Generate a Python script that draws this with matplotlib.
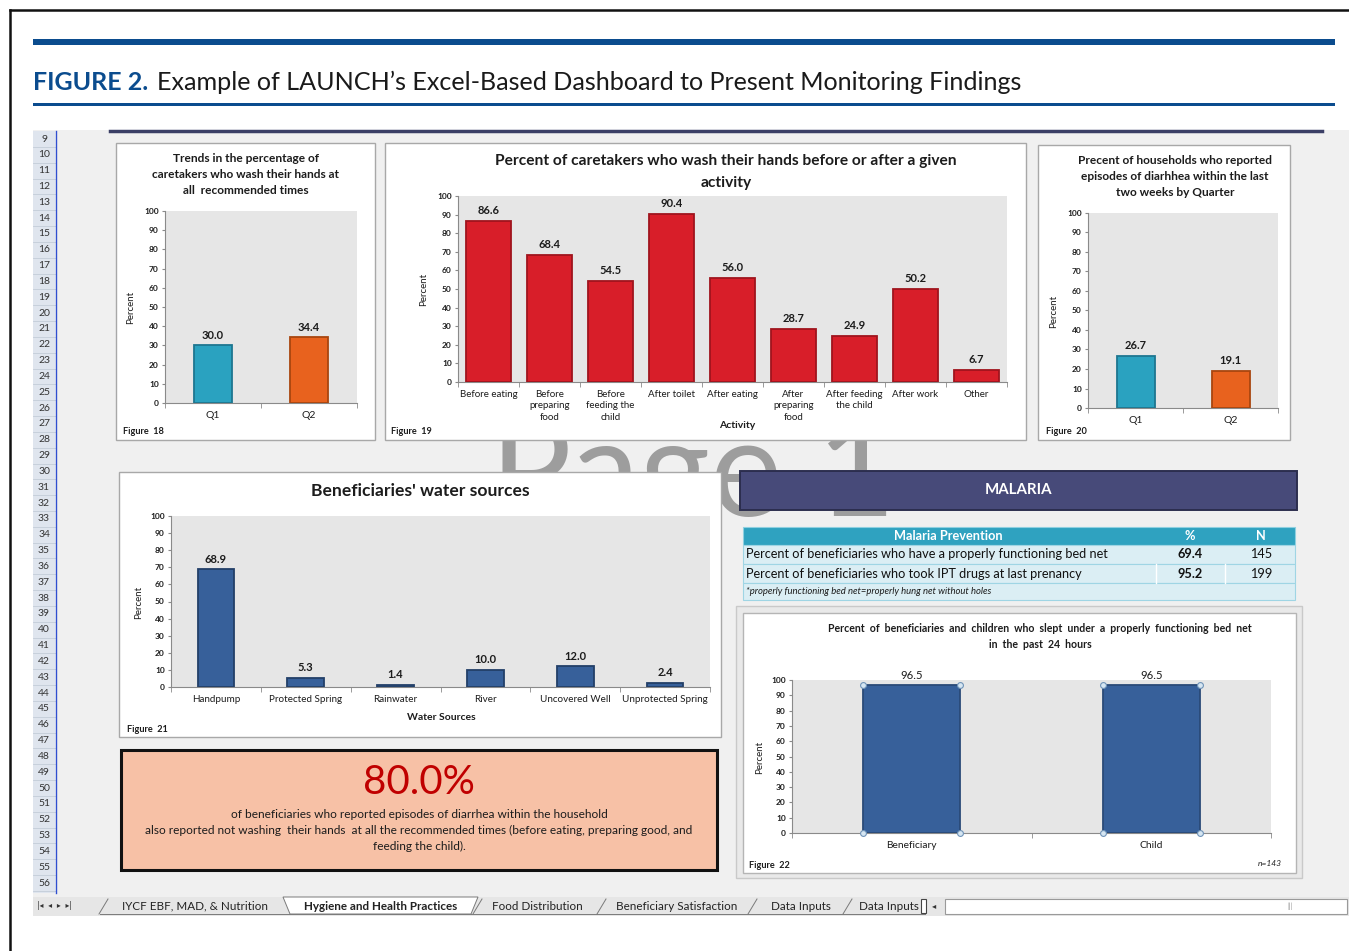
import numpy as np
import matplotlib
matplotlib.use("Agg")
import matplotlib.pyplot as plt
from matplotlib.patches import Rectangle, Polygon

plt.rcParams['font.family'] = ['Lato', 'DejaVu Sans']

W, H = 1349, 951

# ---- data ----
quarters = ['Q1', 'Q2']
wash_all_times = [30.0, 34.4]
activities = ['Before eating', 'Before\npreparing\nfood', 'Before\nfeeding the\nchild',
              'After toilet', 'After eating', 'After\npreparing\nfood',
              'After feeding\nthe child', 'After work', 'Other']
activity_pct = [86.6, 68.4, 54.5, 90.4, 56.0, 28.7, 24.9, 50.2, 6.7]
diarrhea_pct = [26.7, 19.1]
water_sources = ['Handpump', 'Protected Spring', 'Rainwater', 'River',
                 'Uncovered Well', 'Unprotected Spring']
water_pct = [68.9, 5.3, 1.4, 10.0, 12.0, 2.4]
bednet_groups = ['Beneficiary', 'Child']
bednet_pct = [96.5, 96.5]
malaria_items = ['Percent of beneficiaries who have a properly functioning bed net',
                 'Percent of beneficiaries who took IPT drugs at last prenancy']
malaria_pct = [69.4, 95.2]
malaria_n = [145, 199]
headline_pct = 80.0
sheet_tabs = ['IYCF EBF, MAD, & Nutrition', 'Hygiene and Health Practices',
              'Food Distribution', 'Beneficiary Satisfaction', 'Data Inputs', 'Data Inputs']
row_numbers = list(range(9, 57))

TEAL, ORANGE = '#2aa2c0', '#e8621e'
RED, BLUE = '#d81e29', '#37609a'
INK = '#1c1c1c'

fig = plt.figure(figsize=(W / 100, H / 100), dpi=100)
bg = fig.add_axes([0, 0, 1, 1])
bg.set_xlim(0, W)
bg.set_ylim(H, 0)
bg.axis('off')


def box(x0, y0, x1, y1, fc, ec='none', lw=1.0, z=3):
    bg.add_patch(Rectangle((x0, y0), x1 - x0, y1 - y0, facecolor=fc,
                           edgecolor=ec, linewidth=lw, zorder=z))


def txt(x, y, s, **kw):
    kw.setdefault('ha', 'center')
    kw.setdefault('va', 'center')
    kw.setdefault('zorder', 5)
    kw.setdefault('color', INK)
    bg.text(x, y, s, **kw)


def chart_axes(x0, y0, x1, y1):
    return fig.add_axes([x0 / W, 1 - y1 / H, (x1 - x0) / W, (y1 - y0) / H])


def bar_chart(ax, cats, vals, colors, edges, width, xfs=7, vfs=8, vbold=True):
    n = len(vals)
    x = np.arange(n)
    ax.bar(x, vals, width=width, color=colors, edgecolor=edges, linewidth=1.3, zorder=3)
    for xi, v in zip(x, vals):
        ax.annotate(f'{v:.1f}', (xi, v), xytext=(0, 3.2), textcoords='offset points',
                    ha='center', va='bottom', fontsize=vfs,
                    fontweight='bold' if vbold else 'normal', color=INK)
    ax.set_xlim(-0.5, n - 0.5)
    ax.set_ylim(0, 100)
    ax.set_facecolor('#e6e6e6')
    for s in ['top', 'right']:
        ax.spines[s].set_visible(False)
    for s in ['left', 'bottom']:
        ax.spines[s].set_color('#8a8a8a')
        ax.spines[s].set_linewidth(0.8)
    ax.set_yticks(range(0, 101, 10))
    ax.tick_params(axis='y', labelsize=6, length=2.5, pad=2, colors='#8a8a8a',
                   labelcolor=INK)
    for lab in ax.get_yticklabels():
        lab.set_fontweight('bold')
    ax.set_xticks(x)
    ax.set_xticklabels(cats, fontsize=xfs, color=INK, linespacing=1.3)
    ax.tick_params(axis='x', length=0, pad=6)
    ax.set_xticks(np.arange(-0.5, n, 1), minor=True)
    ax.tick_params(axis='x', which='minor', length=3.5, color='#8a8a8a')
    return ax


# ---- page frame and header ----
bg.plot([10, 10], [10, H], color='#111', lw=1.8, zorder=6)
bg.plot([10, W], [10, 10], color='#111', lw=1.8, zorder=6)
box(33, 39, 1335, 45, '#0b4c8e', z=4)
box(33, 103, 1335, 106, '#0b4c8e', z=4)
txt(33, 82, 'FIGURE 2.', ha='left', fontsize=18, fontweight='bold', color='#0b4c8e')
txt(157, 82, 'Example of LAUNCH\u2019s Excel-Based Dashboard to Present Monitoring Findings',
    ha='left', fontsize=18.1, color='#1a1a1a')

# ---- spreadsheet background ----
box(33, 130, W, 897, '#f0f0f0', z=1)
box(33, 131, 55, 893, '#dfe5ee', z=1.5)
row_h = (883 - 139) / 47
for i, r in enumerate(row_numbers):
    yc = 139 + i * row_h
    bg.plot([33, 55], [yc + row_h / 2, yc + row_h / 2], color='#c3ccd8', lw=0.6, zorder=1.6)
    txt(44, yc, str(r), fontsize=7.5, color='#333', zorder=1.7)
bg.plot([56, 56], [131, 893], color='#2f4fd0', lw=1.0, zorder=1.8)
bg.plot([110, 1322], [131, 131], color='#3b3f66', lw=2.5, zorder=1.8)

# watermark behind the charts
txt(490, 516, 'Page 1', ha='left', va='baseline', fontsize=98, color='#9d9d9d', zorder=2)

# ---- panels ----
box(116, 143, 375, 440, 'white', '#a8a8a8')
box(385, 143, 1026, 440, 'white', '#a8a8a8')
box(1038, 145, 1290, 440, 'white', '#a8a8a8')
box(119, 472, 721, 737, 'white', '#a8a8a8')
box(740, 471, 1297, 510, '#474a79', '#2c2e4e', lw=1.4)
box(736, 606, 1302, 878, '#e9e9e9', '#c9c9c9')
box(743, 613, 1296, 873, 'white', '#b5b5b5')
box(121, 750, 717, 870, '#f7c1a6', '#111', lw=2.2)

# Figure 18
for k, line in enumerate(['Trends in the percentage of', 'caretakers who wash their hands at',
                          'all  recommended times']):
    txt(246, 159 + 16 * k, line, fontsize=8.6, fontweight='bold')
txt(131, 307, 'Percent', rotation=90, fontsize=7)
txt(123, 432, 'Figure  18', ha='left', fontsize=6.6, fontweight='bold')
bar_chart(chart_axes(165, 211, 357, 403), quarters, wash_all_times,
          [TEAL, ORANGE], ['#1d7690', '#a8460f'], 0.4, xfs=7.5)

# Figure 19
txt(726, 161, 'Percent of caretakers who wash their hands before or after a given',
    fontsize=11.2, fontweight='bold')
txt(726, 183, 'activity', fontsize=11.2, fontweight='bold')
txt(424, 289, 'Percent', rotation=90, fontsize=7)
txt(737, 425, 'Activity', fontsize=7.5, fontweight='bold')
txt(391, 432, 'Figure  19', ha='left', fontsize=6.6, fontweight='bold')
bar_chart(chart_axes(458, 196, 1007, 382), activities, activity_pct,
          RED, '#a0141d', 0.74, xfs=7, vfs=8)

# Figure 20
for k, line in enumerate(['Precent of households who reported',
                          'episodes of diarhhea within the last', 'two weeks by Quarter']):
    txt(1175, 160 + 16 * k, line, fontsize=8.6, fontweight='bold')
txt(1054, 311, 'Percent', rotation=90, fontsize=7)
txt(1046, 432, 'Figure  20', ha='left', fontsize=6.6, fontweight='bold')
bar_chart(chart_axes(1088, 213, 1278, 408), quarters, diarrhea_pct,
          [TEAL, ORANGE], ['#1d7690', '#a8460f'], 0.4, xfs=7.5)

# Figure 21
txt(420, 491, "Beneficiaries' water sources", fontsize=12.6, fontweight='bold')
txt(139, 602, 'Percent', rotation=90, fontsize=7)
txt(441, 717, 'Water Sources', fontsize=7.5, fontweight='bold')
txt(127, 729, 'Figure  21', ha='left', fontsize=6.6, fontweight='bold')
bar_chart(chart_axes(171, 516, 710, 687), water_sources, water_pct,
          BLUE, '#233f68', 0.41, xfs=7.1)

# Malaria header and table
txt(1018, 490, 'MALARIA', fontsize=10.8, fontweight='bold', color='white')
box(743, 527, 1295, 545, '#2fa2c0', '#8fd0e0', lw=0.8)
for k, y0 in enumerate([545, 564, 583]):
    y1 = y0 + 19 if k < 2 else 600
    box(743, y0, 1295, y1, '#dbeef4', '#9fd5e4', lw=0.8)
for xc in [1156, 1225]:
    bg.plot([xc, xc], [564, 583], color='#ffffff', lw=1.0, zorder=4)
txt(948, 536, 'Malaria Prevention', fontsize=9.2, fontweight='bold', color='white')
txt(1190, 536, '%', fontsize=9.2, fontweight='bold', color='white')
txt(1261, 536, 'N', fontsize=9.2, fontweight='bold', color='white')
for k, (item, p, n) in enumerate(zip(malaria_items, malaria_pct, malaria_n)):
    yc = 554.5 + k * 19
    txt(746, yc, item, ha='left', fontsize=9.2, color='#111')
    txt(1190, yc, f'{p:.1f}', fontsize=9.2, fontweight='bold', color='#111')
    txt(1261, yc, str(n), fontsize=9.2, color='#111')
txt(746, 592, '*properly functioning bed net=properly hung net without holes',
    ha='left', fontsize=6.8, style='italic')

# Figure 22
txt(1040, 629, 'Percent  of  beneficiaries  and  children  who  slept  under  a  properly  functioning  bed  net',
    fontsize=7.6, fontweight='bold')
txt(1040, 644, 'in  the  past  24  hours', fontsize=7.6, fontweight='bold')
txt(760, 757, 'Percent', rotation=90, fontsize=7)
txt(749, 865, 'Figure  22', ha='left', fontsize=6.6, fontweight='bold')
txt(1282, 864, 'n=143', ha='right', fontsize=6, style='italic')
ax22 = bar_chart(chart_axes(792, 680, 1271, 833), bednet_groups, bednet_pct,
                 BLUE, '#2a4a78', 0.405, xfs=7.4, vfs=8.2, vbold=False)
for i, v in enumerate(bednet_pct):
    for dx in (-0.2025, 0.2025):
        ax22.plot([i + dx, i + dx], [0, v], 'o', ms=4.2, mfc='#d6e6f2', mec='#6f93b8',
                  mew=0.8, zorder=4, clip_on=False)

# headline box
txt(419, 782, f'{headline_pct:.1f}%', fontsize=29, color='#c00000')
txt(419, 814, 'of beneficiaries who reported episodes of diarrhea within the household',
    fontsize=8.6)
txt(419, 830, 'also reported not washing  their hands  at all the recommended times '
    '(before eating, preparing good, and', fontsize=8.6)
txt(419, 846, 'feeding the child).', fontsize=8.6)

# ---- sheet tab bar ----
box(33, 897, W, 916, '#e6e6e6', z=2)
box(0, 916, W, H, 'white', z=2)
bg.add_patch(Polygon([(283, 897), (478, 897), (471, 914), (290, 914)], closed=True,
                     facecolor='white', edgecolor='#7a7a7a', linewidth=0.7, zorder=3))
for xs in [104, 478, 602, 753, 848]:
    bg.plot([xs - 5, xs + 4], [914, 899], color='#7a7a7a', lw=0.7, zorder=3)
bg.plot([100, 925], [914, 914], color='#7a7a7a', lw=0.7, zorder=2.5)
txt(37, 906, '|\u25c2  \u25c2  \u25b8  \u25b8|', ha='left', fontsize=5.5,
    color='#333', family='DejaVu Sans')
tab_x = [195, 381, 537, 677, 801, 889]
for k, (name, xc) in enumerate(zip(sheet_tabs, tab_x)):
    txt(xc, 906, name, fontsize=8.4,
        fontweight='bold' if k == 1 else 'normal', color='#222')
box(921, 899, 926, 913, 'white', '#444', lw=0.8)
txt(934, 906, '\u25c2', fontsize=6, color='#333', family='DejaVu Sans')
box(945, 899, 1347, 914, 'white', '#9a9a9a', lw=0.8)
txt(1290, 906, '|||', fontsize=5, color='#999')

fig.savefig('out.png', dpi=100)
